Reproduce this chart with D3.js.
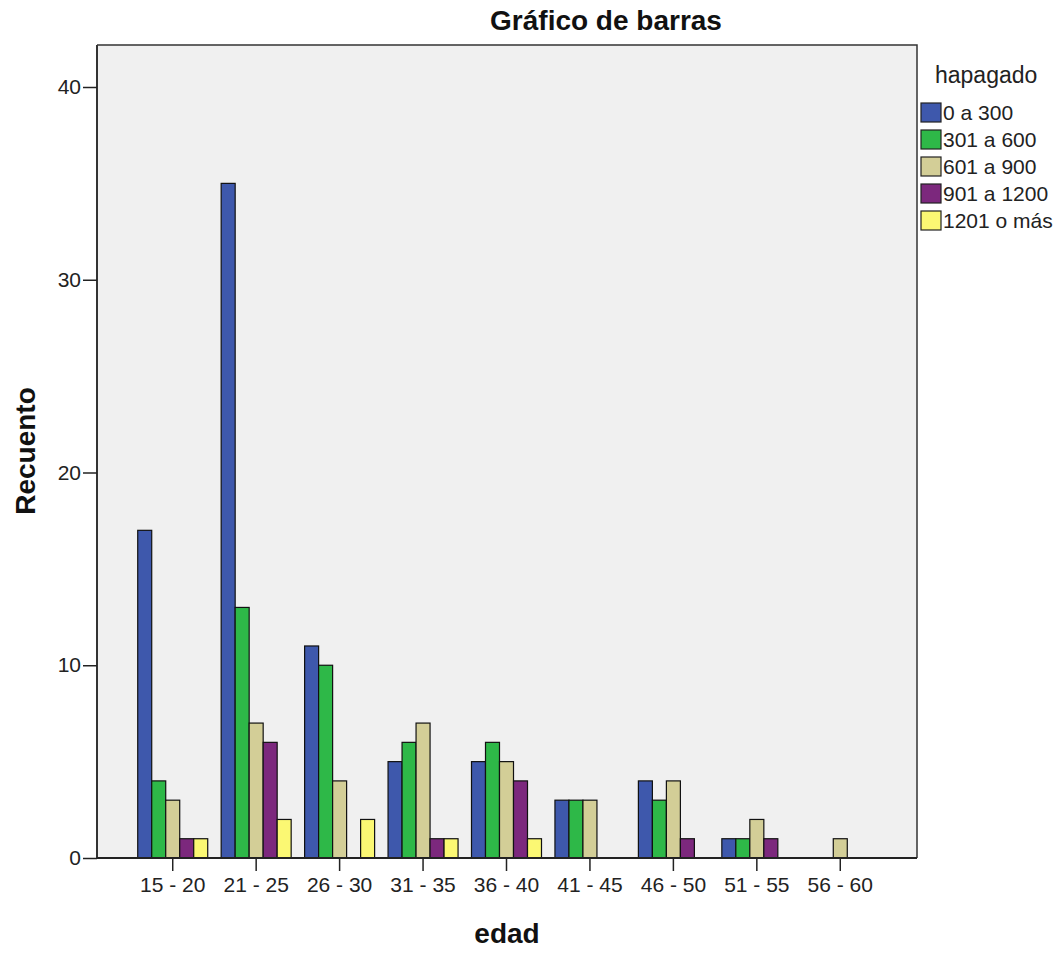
<!DOCTYPE html>
<html>
<head>
<meta charset="utf-8">
<script src="https://cdn.jsdelivr.net/npm/d3@7"></script>
<style>
  html, body { margin: 0; padding: 0; background: #ffffff; }
  svg { display: block; font-family: "Liberation Sans", Arial, sans-serif; }
</style>
</head>
<body>
<svg id="chart" width="1060" height="953"></svg>
<script>
// ---- data ----
const categories = ["15 - 20", "21 - 25", "26 - 30", "31 - 35", "36 - 40", "41 - 45", "46 - 50", "51 - 55", "56 - 60"];
const seriesNames = ["0 a 300", "301 a 600", "601 a 900", "901 a 1200", "1201 o más"];
const values_0a300    = [17, 35, 11, 5, 5, 3, 4, 1, 0];
const values_301a600  = [4, 13, 10, 6, 6, 3, 3, 1, 0];
const values_601a900  = [3, 7, 4, 7, 5, 3, 4, 2, 1];
const values_901a1200 = [1, 6, 0, 1, 4, 0, 1, 1, 0];
const values_1201mas  = [1, 2, 2, 1, 1, 0, 0, 0, 0];
const yTicks = [0, 10, 20, 30, 40];
const seriesColors = ["#3e58ac", "#2eb848", "#d3ce97", "#7c287d", "#fbf873"];

const seriesValues = [values_0a300, values_301a600, values_601a900, values_901a1200, values_1201mas];

// ---- layout ----
const plot = { left: 97, right: 917, top: 45, bottom: 858 };
const svg = d3.select("#chart");

const x = d3.scaleBand().domain(categories).range([plot.left + 34, plot.right - 35]);
const xs = d3.scaleBand().domain(seriesNames).range([-35, 35]);
const y = d3.scaleLinear().domain([0, 40]).range([858, 87]);

// background
svg.append("rect")
  .attr("x", plot.left).attr("y", plot.top)
  .attr("width", plot.right - plot.left).attr("height", plot.bottom - plot.top)
  .attr("fill", "#f0f0f0");

// bars
const rows = [];
categories.forEach((c, i) => {
  seriesNames.forEach((s, j) => {
    const v = seriesValues[j][i];
    if (v > 0) rows.push({ cat: c, series: s, value: v, color: seriesColors[j] });
  });
});

svg.append("g").selectAll("rect")
  .data(rows)
  .join("rect")
  .attr("x", d => x(d.cat) + x.bandwidth() / 2 + xs(d.series))
  .attr("width", xs.bandwidth())
  .attr("y", d => y(d.value))
  .attr("height", d => y(0) - y(d.value))
  .attr("fill", d => d.color)
  .attr("stroke", "#111")
  .attr("stroke-width", 1.2);

// frame (top and right)
svg.append("path")
  .attr("d", `M${plot.left},${plot.top}H${plot.right}V${plot.bottom}`)
  .attr("fill", "none").attr("stroke", "#333").attr("stroke-width", 1.5);

// y axis
const yAxis = svg.append("g")
  .attr("transform", `translate(${plot.left},0)`)
  .call(d3.axisLeft(y).tickValues(yTicks).tickSize(14).tickPadding(2).tickSizeOuter(0));
yAxis.select(".domain").attr("d", `M0,${plot.top}V${plot.bottom}`).attr("stroke", "#333").attr("stroke-width", 2);
yAxis.selectAll(".tick line").attr("stroke", "#222").attr("stroke-width", 1.5);
yAxis.selectAll(".tick text").attr("font-size", 21).attr("fill", "#222")
  .attr("font-family", "'Liberation Sans', Arial, sans-serif");

// x axis
const xAxis = svg.append("g")
  .attr("transform", `translate(0,${plot.bottom})`)
  .call(d3.axisBottom(x).tickSize(13).tickPadding(6).tickSizeOuter(0));
xAxis.select(".domain").attr("d", `M${plot.left},0H${plot.right}`).attr("stroke", "#222").attr("stroke-width", 2);
xAxis.selectAll(".tick line").attr("stroke", "#222").attr("stroke-width", 1.5);
xAxis.selectAll(".tick text").attr("font-size", 21).attr("fill", "#222")
  .attr("font-family", "'Liberation Sans', Arial, sans-serif");

// title
svg.append("text")
  .attr("x", 606).attr("y", 30)
  .attr("text-anchor", "middle")
  .attr("font-size", 28).attr("font-weight", "bold").attr("fill", "#111")
  .text("Gráfico de barras");

// axis titles
svg.append("text")
  .attr("transform", "translate(35,451) rotate(-90)")
  .attr("text-anchor", "middle")
  .attr("font-size", 28).attr("font-weight", "bold").attr("fill", "#111")
  .text("Recuento");

svg.append("text")
  .attr("x", 507).attr("y", 943)
  .attr("text-anchor", "middle")
  .attr("font-size", 28).attr("font-weight", "bold").attr("fill", "#111")
  .text("edad");

// legend
const legend = svg.append("g");
legend.append("text")
  .attr("x", 935).attr("y", 83)
  .attr("font-size", 23).attr("fill", "#222")
  .text("hapagado");

const li = legend.selectAll("g.item")
  .data(seriesNames)
  .join("g").attr("class", "item")
  .attr("transform", (d, i) => `translate(921,${103 + i * 27})`);
li.append("rect")
  .attr("width", 20).attr("height", 19)
  .attr("fill", (d, i) => seriesColors[i])
  .attr("stroke", "#222").attr("stroke-width", 1.2);
li.append("text")
  .attr("x", 22).attr("y", 17)
  .attr("font-size", 21).attr("fill", "#222")
  .text(d => d);
</script>
</body>
</html>
